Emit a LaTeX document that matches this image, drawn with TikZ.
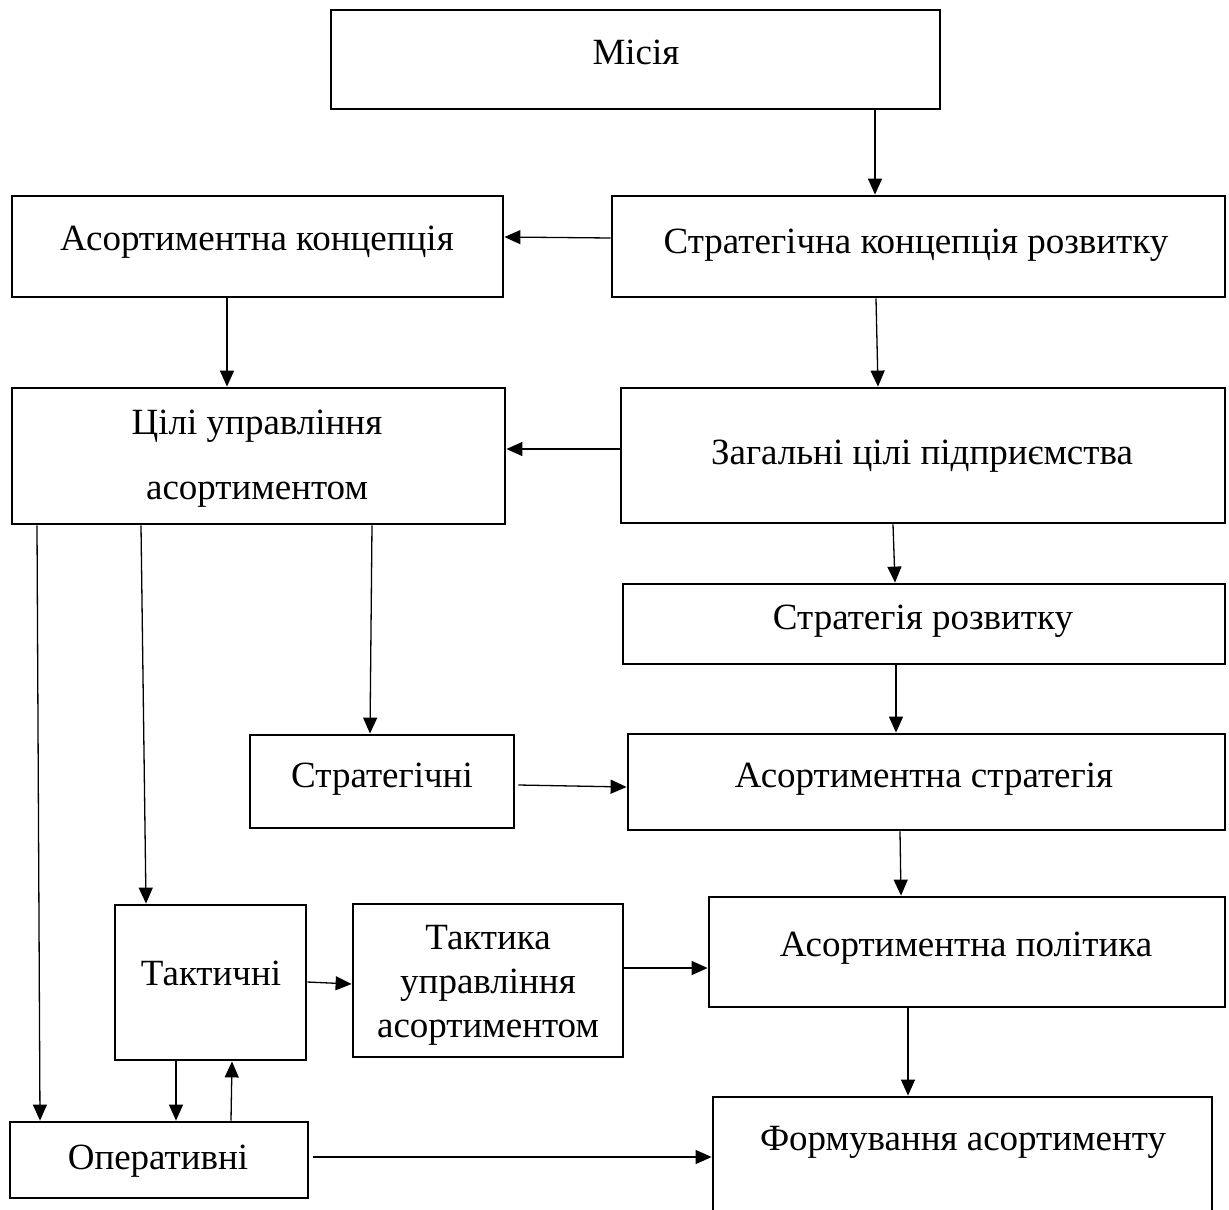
\documentclass[tikz,border=0pt]{standalone}
\usepackage{fontspec}
\setmainfont{Liberation Serif}
\usetikzlibrary{arrows.meta}

\begin{document}
\begin{tikzpicture}[x=1pt, y=-1pt,
  box/.style={draw, line width=2.8pt, inner sep=0pt, minimum width=#1},
  txt/.style={anchor=base, inner sep=0pt, font=\fontsize{37}{44}\selectfont},
  arr/.style={line width=1.3pt, -{Triangle[length=16pt,width=14pt]}}]
  \useasboundingbox (0,0) rectangle (1229,1210);
  \clip (0,0) rectangle (1229,1210);

  % Boxes
  \node[box=609pt, minimum height=99pt] (misia) at (635.5,59.5) {};
  \node[box=491pt, minimum height=101pt] (asconc) at (257.5,246.5) {};
  \node[box=613pt, minimum height=101pt] (stconc) at (918.5,246.5) {};
  \node[box=493pt, minimum height=136pt] (cili) at (258.5,456) {};
  \node[box=604pt, minimum height=135pt] (zagal) at (923,455.5) {};
  \node[box=602pt, minimum height=80pt] (strroz) at (924,624) {};
  \node[box=264pt, minimum height=93pt] (strat) at (382,781.5) {};
  \node[box=597pt, minimum height=96pt] (asstr) at (926.5,782) {};
  \node[box=191pt, minimum height=155pt] (takt) at (210.5,982.5) {};
  \node[box=270pt, minimum height=153pt] (tactic) at (488,980.5) {};
  \node[box=516pt, minimum height=110pt] (aspol) at (967,952) {};
  \node[box=298pt, minimum height=76pt] (oper) at (159,1160) {};
  \node[box=499pt, minimum height=140pt] (form) at (962.5,1167) {};

  % Texts
  \node[txt] (misia-t) at (636,64) {Місія};
  \node[txt] (asconc-t) at (257,250) {Асортиментна концепція};
  \node[txt] (stconc-t) at (916,253) {Стратегічна концепція розвитку};
  \node[txt, anchor=center, align=center, font=\fontsize{37}{65}\selectfont] (cili-t) at (257,459)
    {Цілі управління\\асортиментом};
  \node[txt] (zagal-t) at (922,464) {Загальні цілі підприємства};
  \node[txt] (strroz-t) at (923,629) {Стратегія розвитку};
  \node[txt] (strat-t) at (382,787) {Стратегічні};
  \node[txt] (asstr-t) at (924,787) {Асортиментна стратегія};
  \node[txt] (takt-t) at (211,985) {Тактичні};
  \node[txt, anchor=center, align=center] (tactic-t) at (488,985)
    {Тактика\\управління\\асортиментом};
  \node[txt] (aspol-t) at (966,956) {Асортиментна політика};
  \node[txt] (oper-t) at (158,1169) {Оперативні};
  \node[txt] (form-t) at (963,1150) {Формування асортименту};

  % Arrows
  \draw[arr] (misia.south -| 875,0) -- (stconc.north -| 875,0);
  \draw[arr] (stconc.west |- 0,238) -- (asconc.east |- 0,237);
  \draw[arr] (asconc.south -| 227,0) -- (cili.north -| 227,0);
  \draw[arr] (stconc.south -| 876,0) -- (zagal.north -| 878,0);
  \draw[arr] (zagal.west |- 0,449) -- (cili.east |- 0,449);
  \draw[arr] (zagal.south -| 893,0) -- (strroz.north -| 895,0);
  \draw[arr] (strroz.south -| 896,0) -- (asstr.north -| 896,0);
  \draw[arr] (asstr.south -| 900,0) -- (aspol.north -| 901,0);
  \draw[arr] (cili.south -| 372,0) -- (strat.north -| 370,0);
  \draw[arr] ([xshift=3pt]strat.east |- 0,785) -- (asstr.west |- 0,787);
  \draw[arr] (cili.south -| 141,0) -- (takt.north -| 146,0);
  \draw[arr] (cili.south -| 37,0) -- (oper.north -| 40,0);
  \draw[arr] (takt.east |- 0,982) -- (tactic.west |- 0,984);
  \draw[arr] (tactic.east |- 0,968) -- (aspol.west |- 0,968);
  \draw[arr] (aspol.south -| 908,0) -- (form.north -| 908,0);
  \draw[arr] (takt.south -| 176,0) -- (oper.north -| 176,0);
  \draw[arr] (oper.north -| 231,0) -- (takt.south -| 232,0);
  \draw[arr] ([xshift=4pt]oper.east |- 0,1157) -- (form.west |- 0,1157);
\end{tikzpicture}
\end{document}
